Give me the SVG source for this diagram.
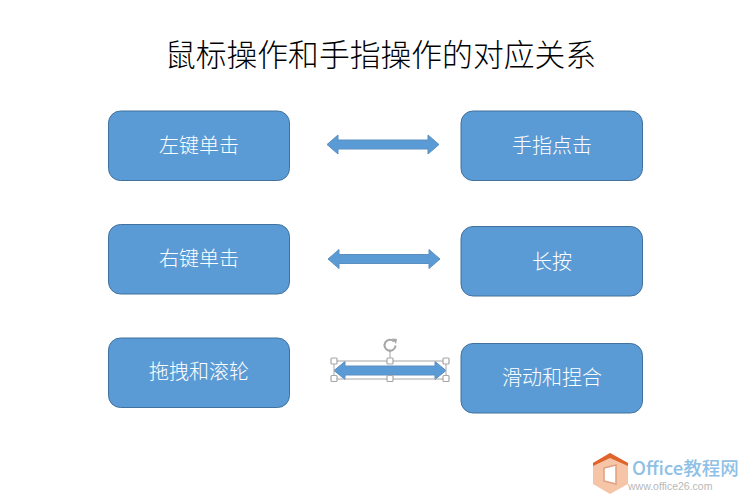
<svg xmlns="http://www.w3.org/2000/svg" width="750" height="500" viewBox="0 0 750 500">
<style>
.box{fill:#5b9bd5;stroke:#41719c;stroke-width:1}
.lbl{font-family:"Noto Sans CJK SC","Noto Sans CJK JP",sans-serif;font-size:20px;fill:#fff;text-anchor:middle;font-weight:300}
.arrow{fill:#5b9bd5;stroke:#5b8fc0;stroke-width:1}
.h{fill:#fff;stroke:#a6a6a6;stroke-width:1.2}
</style>
<rect width="750" height="500" fill="#fff"/>
<text id="title" x="380.500" y="66" font-family="'Noto Sans CJK SC','Noto Sans CJK JP',sans-serif" font-size="30.800" font-weight="300" fill="#000" text-anchor="middle">鼠标操作和手指操作的对应关系</text>
<g id="n1"><rect class="box" x="108.500" y="111" width="181" height="69.500" rx="12"/><text class="lbl" x="199" y="152.500">左键单击</text></g>
<g id="n2"><rect class="box" x="461" y="111" width="181.500" height="69.500" rx="12"/><text class="lbl" x="552" y="153">手指点击</text></g>
<g id="n3"><rect class="box" x="108.500" y="224.500" width="181" height="69.500" rx="12"/><text class="lbl" x="199" y="266">右键单击</text></g>
<g id="n4"><rect class="box" x="461" y="226.500" width="181.500" height="69.500" rx="12"/><text class="lbl" x="552" y="268.500">长按</text></g>
<g id="n5"><rect class="box" x="108.500" y="338" width="181" height="69.500" rx="12"/><text class="lbl" x="199" y="379">拖拽和滚轮</text></g>
<g id="n6"><rect class="box" x="461" y="343.500" width="181.500" height="69.500" rx="12"/><text class="lbl" x="552" y="384.500">滑动和捏合</text></g>
<g id="connectors">
<path class="arrow" d="M327 144.500L338 135V140H428V135L439 144.500L428 154V149H338V154Z"/>
<path class="arrow" d="M328 259L339 249.500V254.500H429V249.500L440 259L429 268.500V263.500H339V268.500Z"/>
<path class="arrow" d="M334 370.500L345 361.500V366H435V361.500L446 370.500L435 379.500V375H345V379.500Z"/>
</g>
<g id="selection">
<rect x="334" y="361" width="112" height="18" fill="none" stroke="#a6a6a6" stroke-width="1"/>
<line x1="390" y1="349" x2="390" y2="361" stroke="#a6a6a6"/>
<rect class="h" x="331" y="358" width="6" height="6" rx="1"/><rect class="h" x="387" y="358" width="6" height="6" rx="1"/><rect class="h" x="443" y="358" width="6" height="6" rx="1"/>
<rect class="h" x="331" y="375.500" width="6" height="6" rx="1"/><rect class="h" x="387" y="375.500" width="6" height="6" rx="1"/><rect class="h" x="443" y="375.500" width="6" height="6" rx="1"/>
<path d="M394 341.500A5.500 5.500 0 1 0 395.500 345.500" fill="none" stroke="#a6a6a6" stroke-width="2"/>
<path d="M392 338.500L397 339L396 344Z" fill="#a6a6a6"/>
</g>
<g id="watermark">
<path d="M610 453L628 463V484L610 494L593 484V463Z" fill="#f6c5a8"/>
<path d="M610 453L628 463V466L610 458L593 466V463Z" fill="#e0642a"/>
<path d="M604 468L616 465V484L604 481Z" fill="#fff" stroke="#e0a080" stroke-width="1.500"/>
<text x="632" y="475" font-family="'Noto Sans CJK SC',sans-serif" font-size="18.500" font-weight="500" fill="#8fc0e6">Office教程网</text>
<text x="628" y="490" font-family="'Liberation Sans',sans-serif" font-size="10.500" fill="#b8b8b8">www.office26.com</text>
</g>
</svg>
